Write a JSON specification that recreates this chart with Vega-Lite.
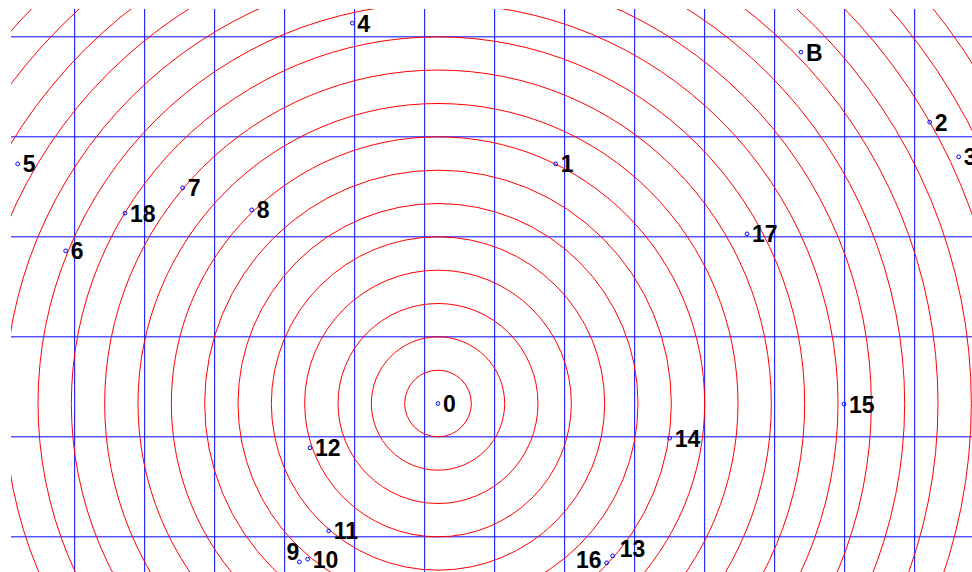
{
  "$schema": "https://vega.github.io/schema/vega-lite/v6.json",
  "width": 961,
  "height": 563,
  "autosize": {"type": "none"},
  "padding": {"left": 11, "top": 9, "right": 0, "bottom": 0},
  "background": "white",
  "config": {"view": {"stroke": null}},
  "datasets": {
    "gridv": [{"gx": -10.9}, {"gx": -8.8}, {"gx": -6.7}, {"gx": -4.6}, {"gx": -2.5}, {"gx": -0.4}, {"gx": 1.7}, {"gx": 3.8}, {"gx": 5.9}, {"gx": 8.0}, {"gx": 10.1}, {"gx": 12.2}, {"gx": 14.3}],
    "gridh": [{"gy": 11}, {"gy": 8}, {"gy": 5}, {"gy": 2}, {"gy": -1}, {"gy": -4}],
    "rings": [{"r": 1}, {"r": 2}, {"r": 3}, {"r": 4}, {"r": 5}, {"r": 6}, {"r": 7}, {"r": 8}, {"r": 9}, {"r": 10}, {"r": 11}, {"r": 12}, {"r": 13}, {"r": 14}, {"r": 15}, {"r": 16}, {"r": 17}, {"r": 18}, {"r": 19}],
    "pts": [
      {"label": "0", "x": 0, "y": 0},
      {"label": "1", "x": 3.53, "y": 7.19},
      {"label": "2", "x": 14.75, "y": 8.44},
      {"label": "3", "x": 15.62, "y": 7.40},
      {"label": "4", "x": -2.57, "y": 11.41},
      {"label": "5", "x": -12.61, "y": 7.19},
      {"label": "6", "x": -11.17, "y": 4.58},
      {"label": "7", "x": -7.66, "y": 6.47},
      {"label": "8", "x": -5.59, "y": 5.81},
      {"label": "9", "x": -4.16, "y": -4.75},
      {"label": "10", "x": -3.91, "y": -4.67},
      {"label": "11", "x": -3.28, "y": -3.82},
      {"label": "12", "x": -3.84, "y": -1.33},
      {"label": "13", "x": 5.24, "y": -4.57},
      {"label": "14", "x": 6.95, "y": -1.04},
      {"label": "15", "x": 12.18, "y": -0.02},
      {"label": "16", "x": 5.06, "y": -4.78},
      {"label": "17", "x": 9.27, "y": 5.09},
      {"label": "18", "x": -9.39, "y": 5.71},
      {"label": "B", "x": 10.89, "y": 10.54}
    ]
  },
  "layer": [
    {
      "data": {"name": "gridv"},
      "mark": {"type": "rule", "color": "#0000ff", "strokeWidth": 1, "clip": true},
      "encoding": {
        "x": {"field": "gx", "type": "quantitative", "scale": {"domain": [-12.81, 16.02], "nice": false, "zero": false}, "axis": null}
      }
    },
    {
      "data": {"name": "gridh"},
      "mark": {"type": "rule", "color": "#0000ff", "strokeWidth": 1, "clip": true},
      "encoding": {
        "y": {"field": "gy", "type": "quantitative", "scale": {"domain": [-5.055, 11.835], "nice": false, "zero": false}, "axis": null}
      }
    },
    {
      "data": {"name": "rings"},
      "mark": {"type": "point", "shape": "circle", "filled": false, "stroke": "#ff0000", "strokeWidth": 1, "opacity": 1, "clip": true},
      "encoding": {
        "x": {"datum": 0, "type": "quantitative", "scale": {"domain": [-12.81, 16.02], "nice": false, "zero": false}, "axis": null},
        "y": {"datum": 0, "type": "quantitative", "scale": {"domain": [-5.055, 11.835], "nice": false, "zero": false}, "axis": null},
        "size": {"field": "r", "type": "quantitative", "scale": {"type": "pow", "exponent": 2, "domain": [0, 20], "range": [0, 1777778]}, "legend": null}
      }
    },
    {
      "data": {"name": "pts"},
      "mark": {"type": "point", "shape": "circle", "filled": false, "stroke": "#0000ff", "strokeWidth": 1, "size": 14, "opacity": 1},
      "encoding": {
        "x": {"field": "x", "type": "quantitative", "scale": {"domain": [-12.81, 16.02], "nice": false, "zero": false}, "axis": null},
        "y": {"field": "y", "type": "quantitative", "scale": {"domain": [-5.055, 11.835], "nice": false, "zero": false}, "axis": null}
      }
    },
    {
      "data": {"name": "pts"},
      "transform": [{"filter": "datum.label != '9' && datum.label != '16' && datum.label != '13'"}],
      "mark": {"type": "text", "align": "left", "baseline": "middle", "dx": 5, "dy": 1.5, "font": "Liberation Sans", "fontWeight": "bold", "fontSize": 23, "color": "#000000"},
      "encoding": {
        "x": {"field": "x", "type": "quantitative", "scale": {"domain": [-12.81, 16.02], "nice": false, "zero": false}, "axis": null},
        "y": {"field": "y", "type": "quantitative", "scale": {"domain": [-5.055, 11.835], "nice": false, "zero": false}, "axis": null},
        "text": {"field": "label"}
      }
    },
    {
      "data": {"name": "pts"},
      "transform": [{"filter": "datum.label == '9'"}],
      "mark": {"type": "text", "align": "right", "baseline": "middle", "dx": 0, "dy": -9, "font": "Liberation Sans", "fontWeight": "bold", "fontSize": 23, "color": "#000000"},
      "encoding": {
        "x": {"field": "x", "type": "quantitative", "scale": {"domain": [-12.81, 16.02], "nice": false, "zero": false}, "axis": null},
        "y": {"field": "y", "type": "quantitative", "scale": {"domain": [-5.055, 11.835], "nice": false, "zero": false}, "axis": null},
        "text": {"field": "label"}
      }
    },
    {
      "data": {"name": "pts"},
      "transform": [{"filter": "datum.label == '16'"}],
      "mark": {"type": "text", "align": "right", "baseline": "middle", "dx": -5, "dy": -2, "font": "Liberation Sans", "fontWeight": "bold", "fontSize": 23, "color": "#000000"},
      "encoding": {
        "x": {"field": "x", "type": "quantitative", "scale": {"domain": [-12.81, 16.02], "nice": false, "zero": false}, "axis": null},
        "y": {"field": "y", "type": "quantitative", "scale": {"domain": [-5.055, 11.835], "nice": false, "zero": false}, "axis": null},
        "text": {"field": "label"}
      }
    },
    {
      "data": {"name": "pts"},
      "transform": [{"filter": "datum.label == '13'"}],
      "mark": {"type": "text", "align": "left", "baseline": "middle", "dx": 7, "dy": -6, "font": "Liberation Sans", "fontWeight": "bold", "fontSize": 23, "color": "#000000"},
      "encoding": {
        "x": {"field": "x", "type": "quantitative", "scale": {"domain": [-12.81, 16.02], "nice": false, "zero": false}, "axis": null},
        "y": {"field": "y", "type": "quantitative", "scale": {"domain": [-5.055, 11.835], "nice": false, "zero": false}, "axis": null},
        "text": {"field": "label"}
      }
    }
  ]
}
